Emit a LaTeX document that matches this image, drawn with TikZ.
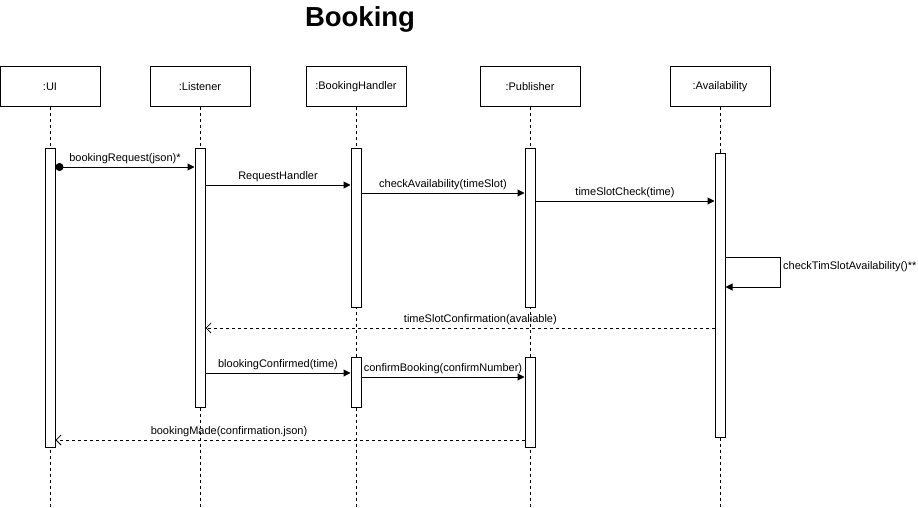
\documentclass[tikz,border=0pt]{standalone}
\usepackage{fontspec}
\setmainfont{Liberation Sans}
\usetikzlibrary{arrows.meta,positioning,calc}

\tikzset{
  obj/.style={draw, line width=1pt, minimum width=100pt, minimum height=40pt, font=\fontsize{11}{13}\selectfont},
  act/.style={draw, fill=white, line width=1pt, minimum width=10pt, inner sep=0pt},
  life/.style={dash pattern=on 3pt off 3pt, line width=0.8pt},
  msg/.style={-{Triangle[length=7pt,width=7pt]}, line width=1pt},
  reply/.style={dash pattern=on 3pt off 3pt, -{Straight Barb[length=5pt,width=10pt]}, line width=0.8pt},
  lbl/.style={font=\fontsize{11}{13}\selectfont, inner sep=3pt}
}

\begin{document}
\begin{tikzpicture}[x=1pt, y=-1pt]
  \useasboundingbox (0,0) rectangle (918,508);

  % Title
  \node[font=\bfseries\fontsize{27.5}{31}\selectfont] (title) at (360,19) {Booking};

  % Participants
  \node[obj] (ui)  at (50,87)  {:UI};
  \node[obj] (lst) at (200,87) {:Listener};
  \node[obj] (bh)  at (356,87) {:BookingHandler};
  \node[obj] (pub) at (530,87) {:Publisher};
  \node[obj] (av)  at (720,87) {:Availability};

  % Lifelines
  \coordinate (bot) at (0,508);
  \foreach \n in {ui,lst,bh,pub,av}
    \draw[life] (\n.south) -- (\n.south |- bot);

  % Activation bars
  \node[act, anchor=north, minimum height=299pt] (aUI)  at (50,148)  {};
  \node[act, anchor=north, minimum height=259pt] (aLst) at (200,148) {};
  \node[act, anchor=north, minimum height=159pt] (aBh)  at (356,148) {};
  \node[act, anchor=north, minimum height=50pt]  (aBh2) at (356,357) {};
  \node[act, anchor=north, minimum height=159pt] (aPub) at (530,148) {};
  \node[act, anchor=north, minimum height=90pt]  (aPub2) at (530,357) {};
  \node[act, anchor=north, minimum height=284pt] (aAv)  at (720,153) {};

  % Messages
  \draw[msg, {Circle[length=8pt]}-{Triangle[length=7pt,width=7pt]}] (aUI.east |- 0,167) -- (aLst.west |- 0,167)
    node[lbl, midway, above] {bookingRequest(json)*};
  \draw[msg] (aLst.east |- 0,185) -- (aBh.west |- 0,185)
    node[lbl, midway, above] {RequestHandler};
  \draw[msg] (aBh.east |- 0,193) -- (aPub.west |- 0,193)
    node[lbl, midway, above] {checkAvailability(timeSlot)};
  \draw[msg] (aPub.east |- 0,201) -- (aAv.west |- 0,201)
    node[lbl, midway, above] {timeSlotCheck(time)};

  % Self call
  \draw[msg] (aAv.east |- 0,257) -- ++(55,0) -- ++(0,30) -- (aAv.east |- 0,287);
  \node[lbl, anchor=west, inner sep=1pt] (selfLbl) at (782,267) {checkTimSlotAvailability()**};

  % Replies and confirmation
  \draw[reply] (aAv.west |- 0,328) -- (aLst.east |- 0,328)
    node[lbl, pos=0.46, above] {timeSlotConfirmation(avaliable)};
  \draw[msg] (aLst.east |- 0,373) -- (aBh2.west |- 0,373)
    node[lbl, midway, above] {blookingConfirmed(time)};
  \draw[msg] (aBh2.east |- 0,377) -- (aPub2.west |- 0,377)
    node[lbl, midway, above] {confirmBooking(confirmNumber)};
  \draw[reply] (aPub2.west |- 0,440) -- (aUI.east |- 0,440)
    node[lbl, pos=0.63, above] {bookingMade(confirmation.json)};
\end{tikzpicture}
\end{document}
